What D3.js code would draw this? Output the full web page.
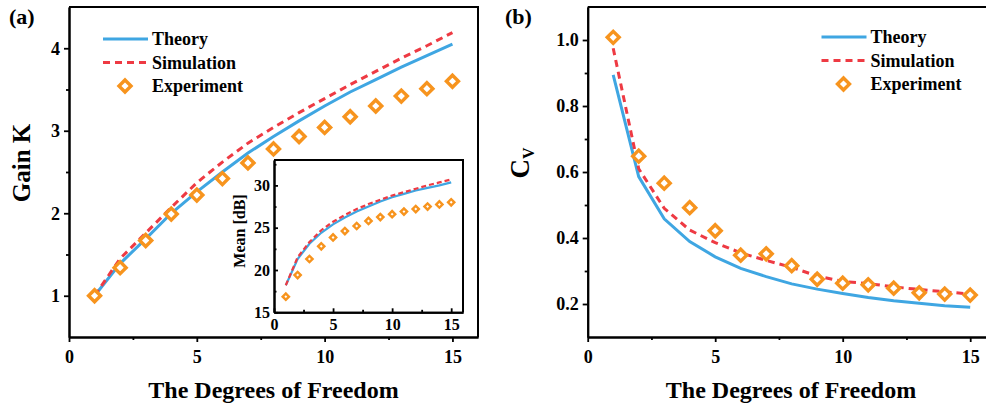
<!DOCTYPE html>
<html>
<head>
<meta charset="utf-8">
<script src="https://cdn.jsdelivr.net/npm/d3@7"></script>
<style>
  body { margin: 0; background: #fff; }
  text { font-family: "Liberation Serif", "Times New Roman", serif; font-weight: bold; }
</style>
</head>
<body>
<div id="chart"></div>
<script>
// degrees of freedom (x for every series)
const dof = [1, 2, 3, 4, 5, 6, 7, 8, 9, 10, 11, 12, 13, 14, 15];

// (a) gain K
const gainTheory = [1.0, 1.39, 1.69, 2.0, 2.26, 2.50, 2.73, 2.93, 3.12, 3.30, 3.47, 3.62, 3.77, 3.91, 4.05];
const gainSim = [1.0, 1.45, 1.76, 2.07, 2.37, 2.62, 2.85, 3.04, 3.22, 3.39, 3.56, 3.72, 3.88, 4.03, 4.19];
const gainExp = [1.0, 1.34, 1.67, 1.99, 2.22, 2.42, 2.61, 2.78, 2.93, 3.04, 3.17, 3.30, 3.42, 3.51, 3.60];

// (a) inset, mean [dB]
const meanTheory = [18.2, 21.3, 23.1, 24.4, 25.4, 26.2, 26.9, 27.5, 28.1, 28.6, 29.0, 29.4, 29.7, 30.0, 30.35];
const meanSim = [18.2, 21.5, 23.3, 24.7, 25.7, 26.5, 27.2, 27.8, 28.3, 28.8, 29.2, 29.6, 30.0, 30.35, 30.7];
const meanExp = [16.85, 19.4, 21.3, 22.8, 23.85, 24.6, 25.2, 25.8, 26.25, 26.6, 26.9, 27.2, 27.5, 27.75, 28.0];

// (b) C_V
const cvTheory = [0.894, 0.586, 0.458, 0.389, 0.343, 0.308, 0.283, 0.261, 0.245, 0.232, 0.220, 0.210, 0.202, 0.195, 0.190];
const cvSim = [0.975, 0.61, 0.49, 0.424, 0.386, 0.355, 0.332, 0.311, 0.285, 0.268, 0.262, 0.252, 0.244, 0.237, 0.230];
const cvExp = [1.008, 0.648, 0.566, 0.492, 0.422, 0.348, 0.352, 0.316, 0.275, 0.263, 0.258, 0.248, 0.234, 0.230, 0.227];

// ticks
const xTicks = [0, 5, 10, 15], xMinor = [2.5, 7.5, 12.5];
const gainTicks = [1, 2, 3, 4], gainMinor = [1.5, 2.5, 3.5];
const meanTicks = [15, 20, 25, 30], meanMinor = [17.5, 22.5, 27.5, 32.5];
const cvTicks = [0.2, 0.4, 0.6, 0.8, 1.0], cvMinor = [0.3, 0.5, 0.7, 0.9];
const legendNames = ['Theory', 'Simulation', 'Experiment'];

const BLUE = '#3FA6E2', RED = '#EE3A43', ORANGE = '#F7941E';

const svg = d3.select('#chart').append('svg')
    .attr('width', 986)
    .attr('height', 407);

function axes(g, x, y, o) {
    g.append('g').attr('transform', `translate(0,${y.range()[0]})`)
        .call(d3.axisBottom(x).tickValues(o.xt).tickSize(o.ts).tickPadding(o.xp).tickSizeOuter(0).tickFormat(d3.format('d')));
    g.append('g').attr('transform', `translate(0,${y.range()[0]})`)
        .call(d3.axisBottom(x).tickValues(o.xm).tickSize(o.ms).tickSizeOuter(0).tickFormat(''));
    g.append('g').attr('transform', `translate(${x.range()[0]},0)`)
        .call(d3.axisLeft(y).tickValues(o.yt).tickSize(o.ts).tickPadding(o.yp).tickSizeOuter(0).tickFormat(o.yf));
    g.append('g').attr('transform', `translate(${x.range()[0]},0)`)
        .call(d3.axisLeft(y).tickValues(o.ym).tickSize(o.ms).tickSizeOuter(0).tickFormat(''));
    g.selectAll('.domain').attr('stroke', '#000').attr('stroke-width', 2);
    g.selectAll('.tick line').attr('stroke', '#000').attr('stroke-width', 1.8);
    g.selectAll('.tick text').attr('font-size', o.fs).attr('fill', '#000')
        .style('font-family', '"Liberation Serif", serif').style('font-weight', 'bold');
    // top and right frame
    g.append('path')
        .attr('d', `M${x.range()[0]},${y.range()[1]}H${x.range()[1]}V${y.range()[0]}`)
        .attr('fill', 'none').attr('stroke', '#000').attr('stroke-width', 2);
}

function series(g, x, y, th, sim, exp, o) {
    const line = vals => d3.line().x((d, i) => x(dof[i])).y(d => y(d))(vals);
    g.append('path').attr('d', line(th)).attr('fill', 'none')
        .attr('stroke', BLUE).attr('stroke-width', o.lw);
    g.append('path').attr('d', line(sim)).attr('fill', 'none')
        .attr('stroke', RED).attr('stroke-width', o.lw).attr('stroke-dasharray', o.dash);
    g.selectAll('.dia').data(exp).enter().append('path')
        .attr('d', d3.symbol(d3.symbolSquare, o.area))
        .attr('transform', (d, i) => `translate(${x(dof[i])},${y(d)}) rotate(45)`)
        .attr('fill', '#fff').attr('stroke', ORANGE).attr('stroke-width', o.sw);
}

function legend(g, x0, y0) {
    legendNames.forEach((name, i) => {
        const yy = y0 + i * 23.5;
        if (i === 0) g.append('line').attr('x1', x0).attr('x2', x0 + 45).attr('y1', yy).attr('y2', yy)
            .attr('stroke', BLUE).attr('stroke-width', 3.2);
        if (i === 1) g.append('line').attr('x1', x0).attr('x2', x0 + 45).attr('y1', yy).attr('y2', yy)
            .attr('stroke', RED).attr('stroke-width', 3.2).attr('stroke-dasharray', '7,5');
        if (i === 2) g.append('path').attr('d', d3.symbol(d3.symbolSquare, 72))
            .attr('transform', `translate(${x0 + 22},${yy}) rotate(45)`)
            .attr('fill', '#fff').attr('stroke', ORANGE).attr('stroke-width', 3.4);
        g.append('text').attr('x', x0 + 49).attr('y', yy + 6).attr('font-size', 18).text(name);
    });
}

// ---------- panel (a) ----------
const ga = svg.append('g');
const xA = d3.scaleLinear([0, 16], [69, 478]);
const yA = d3.scaleLinear([0.5, 4.5], [337, 7]);
axes(ga, xA, yA, { xt: xTicks, xm: xMinor, yt: gainTicks, ym: gainMinor, ts: 5, ms: 3, xp: 8, yp: 4, fs: 18, yf: d3.format('d') });
series(ga, xA, yA, gainTheory, gainSim, gainExp, { lw: 3, dash: '7,5', area: 72, sw: 3.4 });
legend(ga, 103, 39);

// inset
const gi = svg.append('g');
const xI = d3.scaleLinear([0, 16], [274, 463]);
const yI = d3.scaleLinear([15, 33], [312.3, 160]);
gi.append('rect').attr('x', 274).attr('y', 160).attr('width', 189).attr('height', 152.3).attr('fill', '#fff');
axes(gi, xI, yI, { xt: xTicks, xm: xMinor, yt: meanTicks, ym: meanMinor, ts: -4, ms: -2.5, xp: 6, yp: 4, fs: 16, yf: d3.format('d') });
series(gi, xI, yI, meanTheory, meanSim, meanExp, { lw: 2.2, dash: '5,3', area: 20, sw: 2.4 });
gi.append('text').attr('transform', 'translate(245,231) rotate(-90)')
    .attr('text-anchor', 'middle').attr('font-size', 16).text('Mean [dB]');

ga.append('text').attr('x', 273.5).attr('y', 398).attr('text-anchor', 'middle').attr('font-size', 24).text('The Degrees of Freedom');
ga.append('text').attr('transform', 'translate(30,163) rotate(-90)')
    .attr('text-anchor', 'middle').attr('font-size', 25).text('Gain K');
ga.append('text').attr('x', 9).attr('y', 24).attr('font-size', 22).text('(a)');

// ---------- panel (b) ----------
const gb = svg.append('g');
const xB = d3.scaleLinear([0, 16], [587.7, 995.7]);
const yB = d3.scaleLinear([0.1, 1.1], [337, 7]);
axes(gb, xB, yB, { xt: xTicks, xm: xMinor, yt: cvTicks, ym: cvMinor, ts: 5, ms: 3, xp: 8, yp: 4, fs: 18, yf: d3.format('.1f') });
series(gb, xB, yB, cvTheory, cvSim, cvExp, { lw: 3, dash: '7,5', area: 72, sw: 3.4 });
legend(gb, 821.5, 37);

gb.append('text').attr('x', 791).attr('y', 398).attr('text-anchor', 'middle').attr('font-size', 24).text('The Degrees of Freedom');
const cv = gb.append('text').attr('transform', 'translate(529,163) rotate(-90)').attr('text-anchor', 'middle');
cv.append('tspan').attr('font-size', 27).text('C');
cv.append('tspan').attr('font-size', 16).attr('dy', 5).text('V');
gb.append('text').attr('x', 505).attr('y', 24).attr('font-size', 22).text('(b)');
</script>
</body>
</html>
